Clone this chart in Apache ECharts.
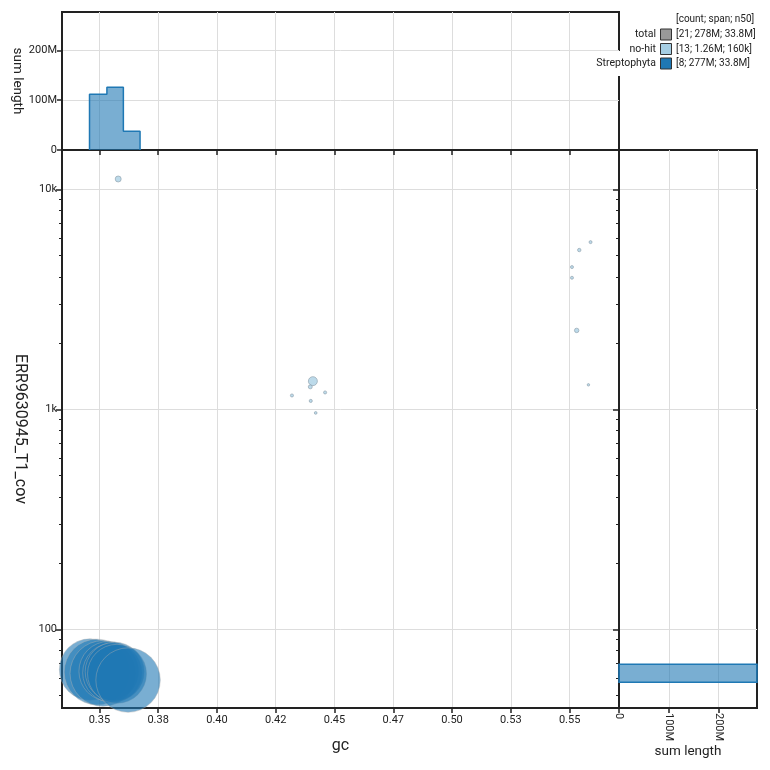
<!DOCTYPE html>
<html>
<head>
<meta charset="utf-8">
<script src="https://cdn.jsdelivr.net/npm/echarts@6/dist/echarts.min.js"></script>
<style>
html, body { margin: 0; padding: 0; background: #fff; }
#chart { width: 770px; height: 770px; }
</style>
</head>
<body>
<div id="chart"></div>
<script>
// tick values and labels
var xTicks = [0.35, 0.375, 0.40, 0.425, 0.45, 0.475, 0.50, 0.525, 0.55];
var xTickLabels = ['0.35', '0.38', '0.40', '0.42', '0.45', '0.47', '0.50', '0.53', '0.55'];
var yTicks = [100, 1000, 10000];
var yTickLabels = ['100', '1k', '10k'];
var yMinorTicks = [50, 60, 70, 80, 90, 200, 300, 400, 500, 600, 700, 800, 900,
    2000, 3000, 4000, 5000, 6000, 7000, 8000, 9000];
var lenTicks = [0, 100e6, 200e6];
var lenTickLabels = ['0', '100M', '200M'];

// scaffolds: [gc, coverage, length in Mb]
var streptophyta = [
    [0.3460, 65.7, 33.8],
    [0.3490, 64.0, 39.0],
    [0.3515, 63.0, 39.0],
    [0.3540, 64.5, 32.0],
    [0.3555, 63.5, 31.5],
    [0.3565, 64.2, 31.2],
    [0.3575, 62.8, 31.2],
    [0.3622, 58.8, 37.5]
];
var noHit = [
    [0.3580, 11140, 0.154],
    [0.4408, 1343, 0.47],
    [0.4397, 1265, 0.038],
    [0.4319, 1156, 0.012],
    [0.4460, 1193, 0.012],
    [0.4399, 1092, 0.012],
    [0.4420, 963, 0.005],
    [0.5589, 5754, 0.01],
    [0.5541, 5296, 0.02],
    [0.5510, 4432, 0.01],
    [0.5510, 3963, 0.01],
    [0.5530, 2284, 0.06],
    [0.5580, 1292, 0.002]
];

// histograms
var gcBinEdges = [0.3458, 0.3532, 0.3602, 0.3673];
var gcBinSums = [111.8e6, 125.9e6, 37.5e6];
var covBins = [[277e6, 57.5, 69.4]];   // [sum length, cov from, cov to]

// legend
var legendNames = ['total', 'no-hit', 'Streptophyta'];
var legendColors = ['#999999', '#a6cee3', '#1f78b4'];
var legendStats = ['[21; 278M; 33.8M]', '[13; 1.26M; 160k]', '[8; 277M; 33.8M]'];

var FONT = 'Roboto, sans-serif';
var TXT = '#222';

function lookup(vals, labels, v) {
    for (var i = 0; i < vals.length; i++) {
        if (Math.abs(vals[i] - v) < Math.abs(vals[i]) * 1e-6 + 1e-9) return labels[i];
    }
    return '';
}

function bubbleSize(v) {
    return 2 + 10.2 * Math.sqrt(v[2]);
}

var histLine = [[gcBinEdges[0], 0]];
for (var i = 0; i < gcBinSums.length; i++) histLine.push([gcBinEdges[i], gcBinSums[i]]);
histLine.push([gcBinEdges[gcBinEdges.length - 1], 0]);

var axisLine = { show: true, lineStyle: { color: TXT, width: 2 } };
var split = { show: true, lineStyle: { color: '#dddddd', width: 1 } };

function gcAxis(grid, labels) {
    return {
        type: 'value', gridIndex: grid, min: 0.3341, max: 0.571,
        axisLine: axisLine,
        axisTick: { show: true, customValues: xTicks, length: 5, lineStyle: { color: TXT, width: 1.5 } },
        axisLabel: { show: labels, customValues: xTicks, margin: 7, fontSize: 11, fontFamily: FONT, color: TXT,
            formatter: function (v) { return lookup(xTicks, xTickLabels, v); } },
        splitLine: split
    };
}
function covAxis(grid, labels) {
    return {
        type: 'log', logBase: 10, gridIndex: grid, min: 43.9, max: 15090, position: 'left',
        axisLine: axisLine,
        axisTick: { show: true, customValues: yTicks, length: 6, lineStyle: { color: TXT, width: 1.5 } },
        axisLabel: { show: labels, customValues: yTicks, margin: 5, fontSize: 11, fontFamily: FONT, color: TXT,
            formatter: function (v) { return lookup(yTicks, yTickLabels, v); } },
        splitLine: split
    };
}
function covMinorAxis(grid) {
    return {
        type: 'log', logBase: 10, gridIndex: grid, min: 43.9, max: 15090, position: 'left',
        axisLine: { show: false },
        axisTick: { show: true, customValues: yMinorTicks, length: 3, lineStyle: { color: TXT, width: 1 } },
        axisLabel: { show: false },
        splitLine: { show: false }
    };
}
function lenAxis(grid, rotate) {
    return {
        type: 'value', gridIndex: grid, min: 0, max: 277e6,
        name: 'sum length', nameLocation: 'middle', nameMoveOverlap: false,
        nameTextStyle: { fontSize: 13.5, fontFamily: FONT, color: TXT },
        axisLine: axisLine,
        axisTick: { show: true, customValues: lenTicks, length: 5, lineStyle: { color: TXT, width: 1.5 } },
        axisLabel: { customValues: lenTicks, margin: 5, fontSize: 11, fontFamily: FONT, color: TXT, rotate: rotate,
            formatter: function (v) { return lookup(lenTicks, lenTickLabels, v); } },
        splitLine: split
    };
}

var xMain = gcAxis(0, true);
xMain.name = 'gc';
xMain.nameLocation = 'middle';
xMain.nameGap = 30;
xMain.nameTextStyle = { fontSize: 16, fontFamily: FONT, color: TXT };

var yMain = covAxis(0, true);
yMain.name = 'ERR9630945_T1_cov';
yMain.nameLocation = 'middle';
yMain.nameRotate = -90;
yMain.nameGap = 34;
yMain.nameTextStyle = { fontSize: 16, fontFamily: FONT, color: TXT };

var yTop = lenAxis(1, 0);
yTop.nameRotate = -90;
yTop.nameGap = 38;

var xRight = lenAxis(2, -90);
xRight.nameGap = 37;

var legendGraphics = [
    { type: 'rect', left: 599, top: 51, shape: { width: 154, height: 25 }, style: { fill: '#fff' }, z: 10 },
    { type: 'text', left: 676, top: 14, style: { text: '[count; span; n50]', font: '10px ' + FONT, fill: TXT }, z: 11 }
];
legendNames.forEach(function (name, i) {
    var yc = 34.5 + i * 14.5;
    legendGraphics.push({ type: 'text', x: 656, y: yc, z: 11,
        style: { text: name, font: '10.5px ' + FONT, fill: TXT, align: 'right', verticalAlign: 'middle' } });
    legendGraphics.push({ type: 'rect', x: 660.5, y: yc - 5.5, z: 11,
        shape: { width: 11, height: 11 }, style: { fill: legendColors[i], stroke: '#333', lineWidth: 1 } });
    legendGraphics.push({ type: 'text', x: 676, y: yc, z: 11,
        style: { text: legendStats[i], font: '10px ' + FONT, fill: TXT, align: 'left', verticalAlign: 'middle' } });
});

var gridBase = { show: true, borderColor: TXT, borderWidth: 2, backgroundColor: 'transparent', containLabel: false, outerBoundsMode: 'none' };

var option = {
    animation: false,
    backgroundColor: '#fff',
    grid: [
        Object.assign({ left: 62, top: 150, width: 557, height: 558 }, gridBase),
        Object.assign({ left: 62, top: 12, width: 557, height: 138 }, gridBase),
        Object.assign({ left: 619, top: 150, width: 138, height: 558 }, gridBase)
    ],
    xAxis: [xMain, gcAxis(1, false), xRight],
    yAxis: [yMain, covMinorAxis(0), yTop, covAxis(2, false), covMinorAxis(2)],
    series: [
        {
            name: 'no-hit', type: 'scatter', xAxisIndex: 0, yAxisIndex: 0,
            data: noHit, symbolSize: bubbleSize,
            itemStyle: { color: '#a6cee3', opacity: 0.75, borderColor: '#8a9aa6', borderWidth: 0.8 },
            emphasis: { disabled: true }
        },
        {
            name: 'Streptophyta', type: 'scatter', xAxisIndex: 0, yAxisIndex: 0,
            data: streptophyta, symbolSize: bubbleSize,
            itemStyle: { color: '#1f78b4', opacity: 0.6, borderColor: '#b0b0b0', borderWidth: 0.7 },
            emphasis: { disabled: true }
        },
        {
            name: 'gc hist', type: 'line', xAxisIndex: 1, yAxisIndex: 2,
            data: histLine, step: 'end', symbol: 'none',
            lineStyle: { color: '#1f78b4', width: 1.5 },
            areaStyle: { color: '#1f78b4', opacity: 0.6 }
        },
        {
            name: 'cov hist', type: 'custom', xAxisIndex: 2, yAxisIndex: 3,
            data: covBins,
            encode: { x: 0, y: [1, 2] },
            renderItem: function (params, api) {
                var p0 = api.coord([0, api.value(1)]);
                var p1 = api.coord([api.value(0), api.value(2)]);
                return {
                    type: 'rect',
                    shape: { x: p0[0], y: p1[1], width: p1[0] - p0[0], height: p0[1] - p1[1] },
                    style: { fill: 'rgba(31,120,180,0.6)', stroke: '#1f78b4', lineWidth: 1.5 }
                };
            }
        }
    ],
    graphic: legendGraphics
};

var chart = echarts.init(document.getElementById('chart'));
chart.setOption(option);
</script>
</body>
</html>
